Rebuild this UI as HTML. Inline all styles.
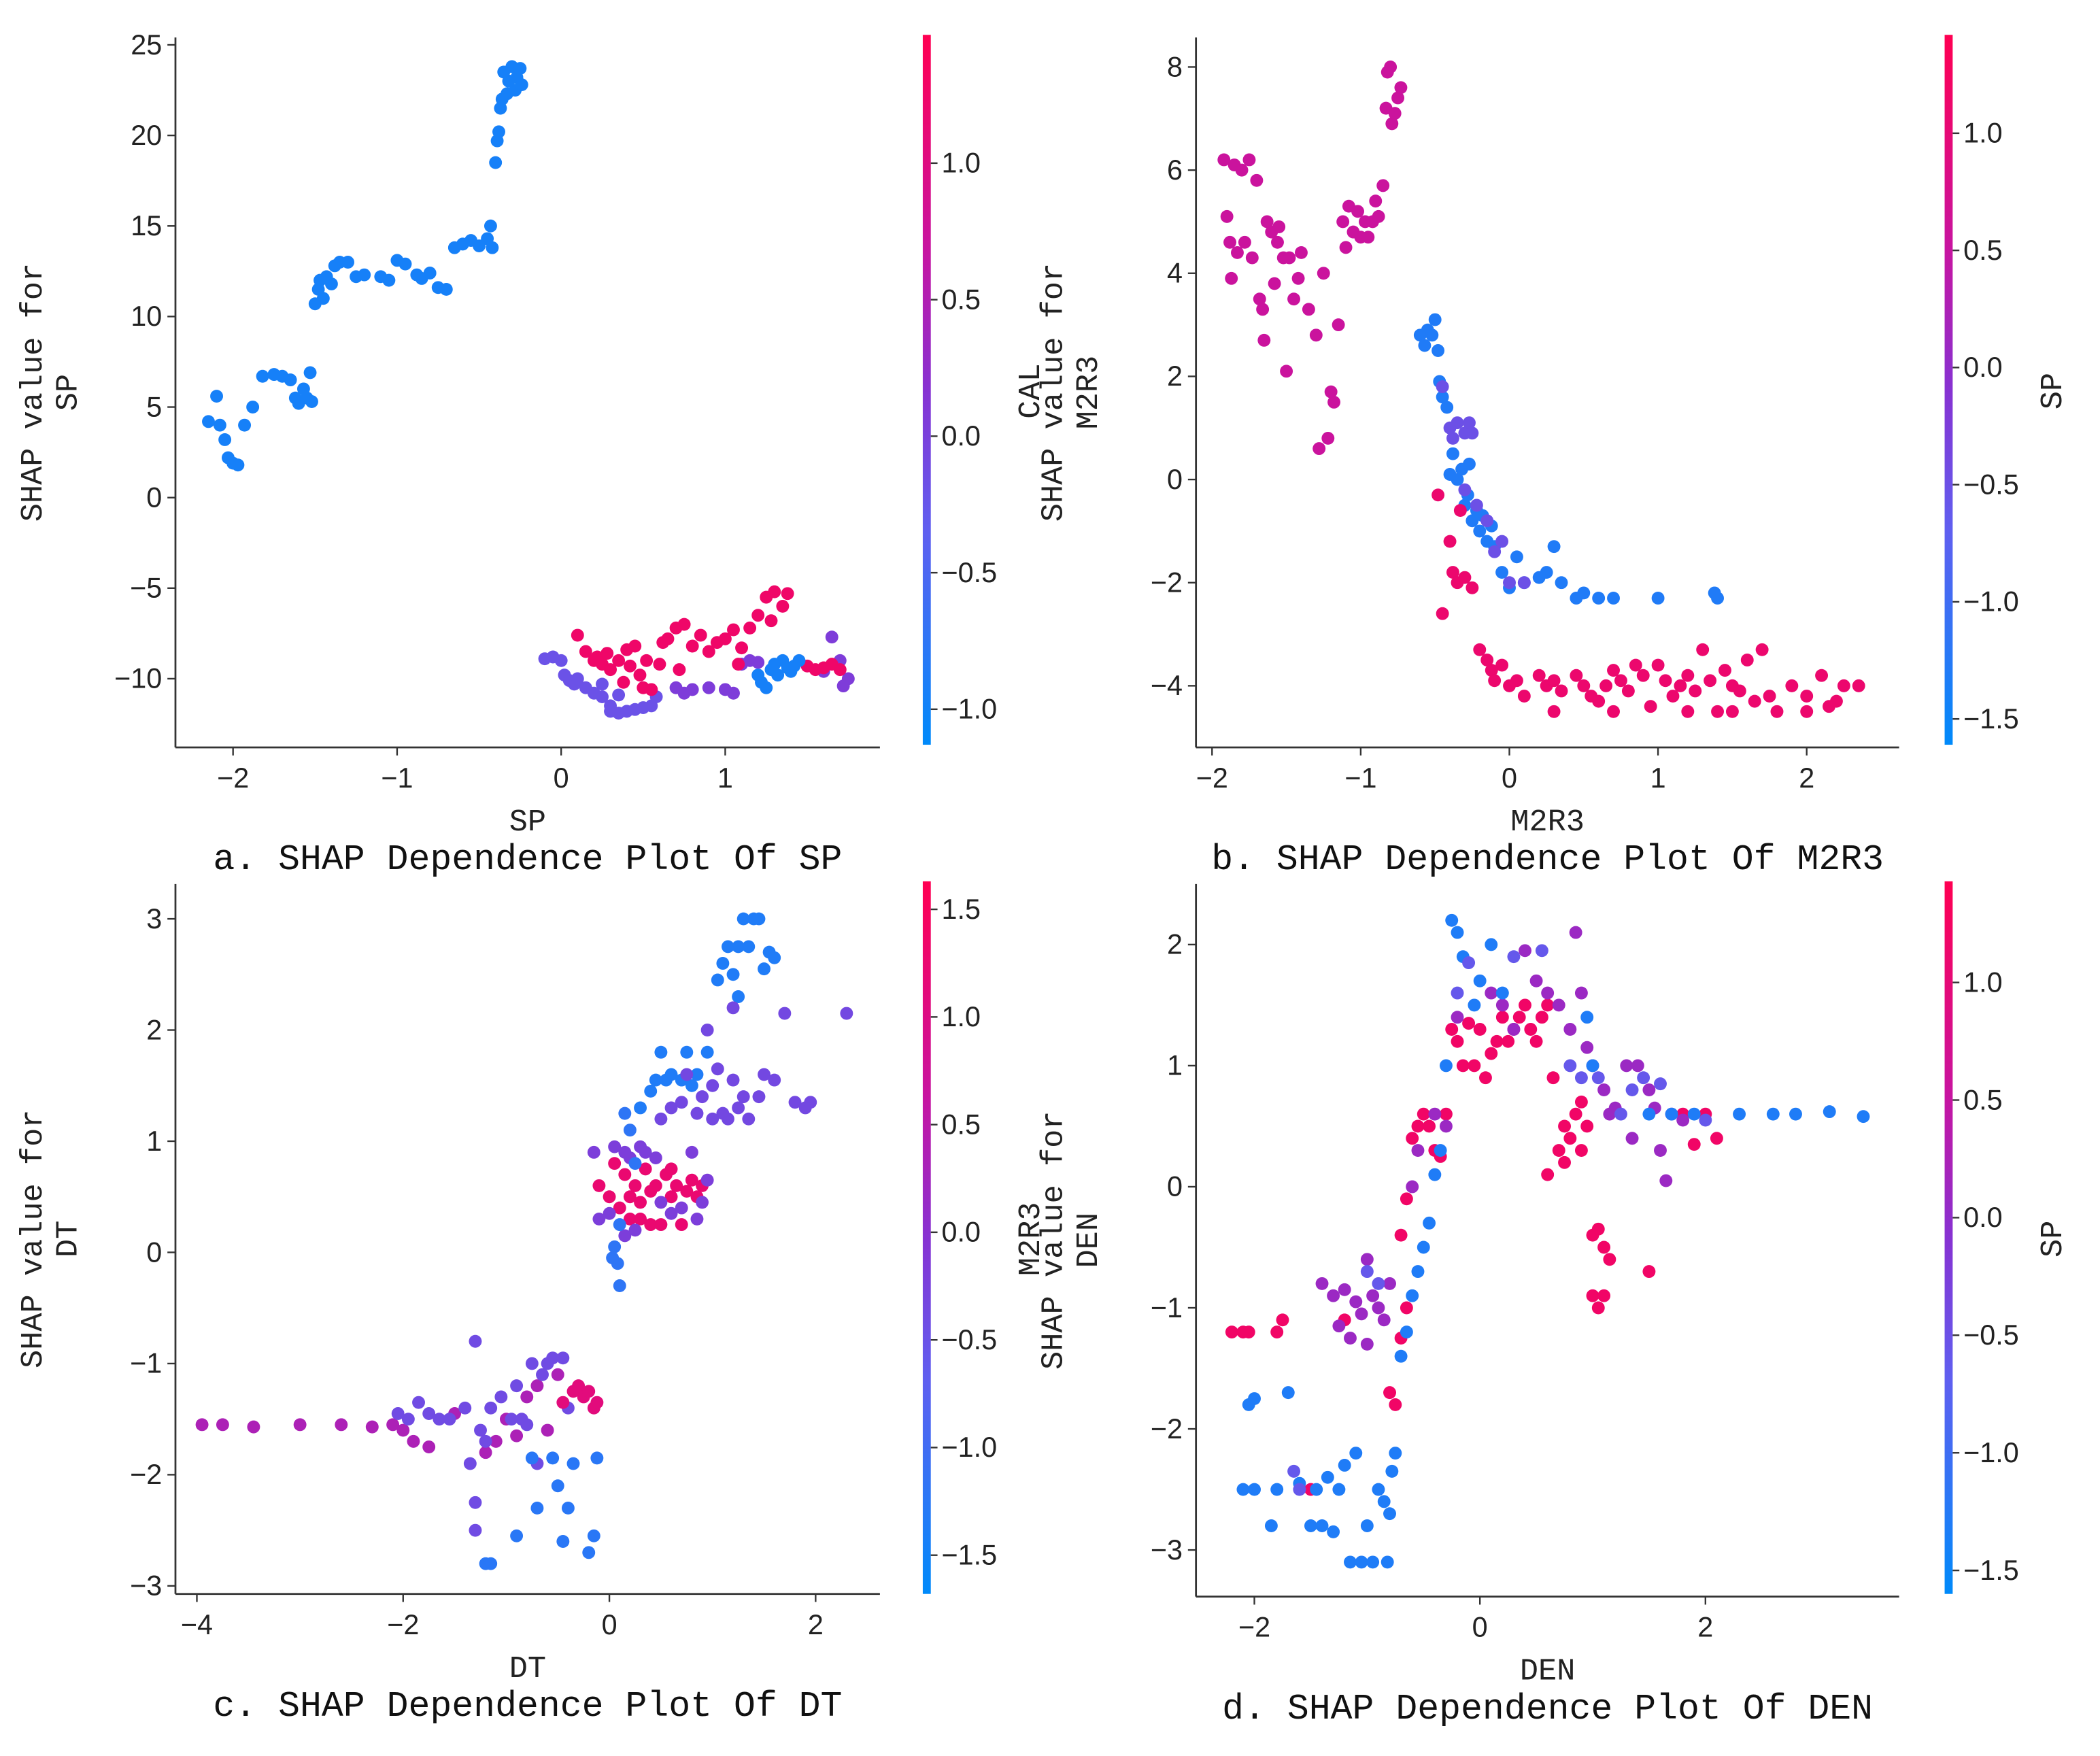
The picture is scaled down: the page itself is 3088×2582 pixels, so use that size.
<!DOCTYPE html>
<html><head><meta charset="utf-8"><style>
html,body{margin:0;padding:0;background:#fff;}
svg{display:block;}
.tk{font-family:"Liberation Sans","DejaVu Sans",sans-serif;font-size:21px;fill:#222;}
.lb{font-family:"Liberation Mono","DejaVu Sans Mono",monospace;font-size:23px;fill:#222;}
.tt{font-family:"Liberation Mono","DejaVu Sans Mono",monospace;font-size:27px;fill:#111;}
</style></head><body>
<svg id="fig" width="3088" height="2582" viewBox="0 0 1568 1311" preserveAspectRatio="none" xmlns="http://www.w3.org/2000/svg">
<defs id="defs"></defs>
</svg>
<script>
// ---------- Panel a data (x: SP, y: SHAP, color: CAL) ----------
const aGroupColors = [-0.95, -0.2, 0.05, 1.25, -0.95];
const aGroupPoints = [
 [[-2.15,4.2],[-2.1,5.6],[-2.08,4.0],[-2.05,3.2],[-2.03,2.2],[-2.0,1.9],[-1.97,1.8],[-1.93,4.0],[-1.88,5.0],[-1.82,6.7],[-1.75,6.8],[-1.7,6.7],[-1.65,6.5],[-1.62,5.5],[-1.6,5.2],[-1.57,6.0],[-1.55,5.5],[-1.53,6.9],[-1.52,5.3],[-1.5,10.7],[-1.48,11.5],[-1.47,12.0],[-1.45,11.0],[-1.43,12.2],[-1.4,11.8],[-1.38,12.8],[-1.35,13.0],[-1.3,13.0],[-1.25,12.2],[-1.2,12.3],[-1.1,12.2],[-1.05,12.0],[-1.0,13.1],[-0.95,12.9],[-0.88,12.3],[-0.85,12.1],[-0.8,12.4],[-0.75,11.6],[-0.7,11.5],[-0.65,13.8],[-0.6,14.0],[-0.55,14.2],[-0.5,13.9],[-0.45,14.3],[-0.43,15.0],[-0.42,13.8],[-0.4,18.5],[-0.39,19.7],[-0.38,20.2],[-0.37,21.5],[-0.36,22.0],[-0.35,23.5],[-0.33,22.3],[-0.32,23.0],[-0.3,23.8],[-0.28,22.5],[-0.27,23.2],[-0.25,23.7],[-0.24,22.8]],
 [[-0.1,-8.9],[-0.05,-8.8],[0.0,-9.0],[0.02,-9.8],[0.05,-10.1],[0.08,-10.3],[0.1,-10.0],[0.15,-10.5],[0.2,-10.8],[0.25,-11.0],[0.3,-11.5],[0.3,-11.8],[0.35,-11.9],[0.4,-11.8],[0.45,-11.7],[0.5,-11.6],[0.55,-11.5],[0.58,-11.0],[0.25,-10.3],[0.35,-10.9]],
 [[0.7,-10.5],[0.75,-10.8],[0.8,-10.6],[0.9,-10.5],[1.0,-10.6],[1.05,-10.8],[1.1,-9.2],[1.15,-9.0],[1.2,-9.1],[1.65,-7.7],[1.7,-9.0],[1.72,-10.4],[1.75,-10.0],[1.6,-9.6]],
 [[0.1,-7.6],[0.15,-8.5],[0.2,-9.0],[0.22,-8.8],[0.25,-9.2],[0.28,-8.6],[0.3,-9.5],[0.35,-9.0],[0.38,-10.2],[0.4,-8.4],[0.42,-9.3],[0.45,-8.2],[0.48,-9.8],[0.5,-10.5],[0.52,-9.0],[0.55,-10.6],[0.6,-9.2],[0.62,-8.0],[0.65,-7.8],[0.7,-7.2],[0.72,-9.5],[0.75,-7.0],[0.8,-8.2],[0.85,-7.6],[0.9,-8.5],[0.95,-8.0],[1.0,-7.8],[1.05,-7.3],[1.08,-9.2],[1.1,-8.3],[1.15,-7.2],[1.2,-6.5],[1.25,-5.5],[1.28,-6.8],[1.3,-5.2],[1.35,-6.0],[1.38,-5.3],[1.5,-9.3],[1.55,-9.5],[1.6,-9.4],[1.65,-9.2],[1.7,-9.5]],
 [[1.2,-9.8],[1.22,-10.2],[1.25,-10.5],[1.28,-9.5],[1.3,-9.2],[1.32,-9.8],[1.35,-9.0],[1.38,-9.4],[1.4,-9.6],[1.42,-9.3],[1.45,-9.0]]
];
const aXTicks = [-2,-1,0,1];
const aYTicks = [-10,-5,0,5,10,15,20,25];
const aCTicks = [-1.0,-0.5,0.0,0.5,1.0];

// ---------- Panel b data (x: M2R3, color: SP) ----------
const bGroupColors = [0.55, -1.3, -0.5, 1.1];
const bGroupPoints = [
 [[-1.92,6.2],[-1.9,5.1],[-1.88,4.6],[-1.87,3.9],[-1.85,6.1],[-1.83,4.4],[-1.8,6.0],[-1.78,4.6],[-1.75,6.2],[-1.73,4.3],[-1.7,5.8],[-1.68,3.5],[-1.66,3.3],[-1.65,2.7],[-1.63,5.0],[-1.6,4.8],[-1.58,3.8],[-1.56,4.6],[-1.55,4.9],[-1.52,4.3],[-1.5,2.1],[-1.48,4.3],[-1.45,3.5],[-1.42,3.9],[-1.4,4.4],[-1.35,3.3],[-1.3,2.8],[-1.28,0.6],[-1.25,4.0],[-1.22,0.8],[-1.2,1.7],[-1.18,1.5],[-1.15,3.0],[-1.12,5.0],[-1.1,4.5],[-1.08,5.3],[-1.05,4.8],[-1.02,5.2],[-1.0,4.7],[-0.97,5.0],[-0.95,4.7],[-0.92,5.0],[-0.9,5.4],[-0.88,5.1],[-0.85,5.7],[-0.83,7.2],[-0.82,7.9],[-0.8,8.0],[-0.79,6.9],[-0.77,7.1],[-0.75,7.4],[-0.73,7.6]],
 [[-0.6,2.8],[-0.57,2.6],[-0.55,2.9],[-0.52,2.8],[-0.5,3.1],[-0.48,2.5],[-0.47,1.9],[-0.45,1.6],[-0.42,1.4],[-0.38,0.5],[-0.35,0.0],[-0.32,0.2],[-0.3,-0.5],[-0.28,-0.3],[-0.25,-0.8],[-0.22,-0.6],[-0.2,-1.0],[-0.18,-0.7],[-0.15,-1.2],[-0.12,-0.9],[-0.1,-1.3],[-0.05,-1.8],[0.0,-2.1],[0.05,-1.5],[0.1,-2.0],[0.2,-1.9],[0.25,-1.8],[0.3,-1.3],[0.35,-2.0],[0.45,-2.3],[0.5,-2.2],[0.6,-2.3],[0.7,-2.3],[1.0,-2.3],[1.38,-2.2],[1.4,-2.3],[-0.4,0.1],[-0.27,0.3]],
 [[-0.4,1.0],[-0.38,0.8],[-0.35,1.1],[-0.3,0.9],[-0.27,1.1],[-0.25,0.9],[-0.3,-0.2],[-0.22,-0.5],[-0.15,-0.8],[-0.1,-1.4],[-0.05,-1.2],[0.0,-2.0],[0.1,-2.0],[-0.45,1.8]],
 [[-0.48,-0.3],[-0.45,-2.6],[-0.4,-1.2],[-0.38,-1.8],[-0.35,-2.0],[-0.33,-0.6],[-0.3,-1.9],[-0.25,-2.1],[-0.2,-3.3],[-0.15,-3.5],[-0.12,-3.7],[-0.1,-3.9],[-0.05,-3.6],[0.0,-4.0],[0.05,-3.9],[0.1,-4.2],[0.2,-3.8],[0.25,-4.0],[0.3,-3.9],[0.35,-4.1],[0.45,-3.8],[0.5,-4.0],[0.55,-4.2],[0.6,-4.3],[0.65,-4.0],[0.7,-3.7],[0.75,-3.9],[0.8,-4.1],[0.85,-3.6],[0.9,-3.8],[0.95,-4.4],[1.0,-3.6],[1.05,-3.9],[1.1,-4.2],[1.15,-4.0],[1.2,-3.8],[1.25,-4.1],[1.3,-3.3],[1.35,-3.9],[1.4,-4.5],[1.45,-3.7],[1.5,-4.0],[1.55,-4.1],[1.6,-3.5],[1.65,-4.3],[1.7,-3.3],[1.75,-4.2],[1.8,-4.5],[1.9,-4.0],[2.0,-4.2],[2.1,-3.8],[2.15,-4.4],[2.2,-4.3],[2.25,-4.0],[2.35,-4.0],[0.3,-4.5],[0.7,-4.5],[1.2,-4.5],[1.5,-4.5],[2.0,-4.5]]
];
const bXTicks = [-2,-1,0,1,2];
const bYTicks = [-4,-2,0,2,4,6,8];
const bCTicks = [-1.5,-1.0,-0.5,0.0,0.5,1.0];

// ---------- Panel c data (x: DT, color: M2R3) ----------
const cGroupColors = [0.35, -0.4, -1.25, 1.1, 1.25, -0.2, -1.2, -1.35, -0.35];
const cGroupPoints = [
 [[-3.95,-1.55],[-3.75,-1.55],[-3.45,-1.57],[-3.0,-1.55],[-2.6,-1.55],[-2.3,-1.57],[-2.1,-1.55],[-2.0,-1.6],[-1.9,-1.7],[-1.75,-1.75],[-1.5,-1.45],[-1.2,-1.8],[-1.1,-1.7],[-1.0,-1.5],[-0.9,-1.65],[-0.8,-1.3],[-0.7,-1.2],[-0.6,-1.6],[-0.5,-1.1]],
 [[-2.05,-1.45],[-1.95,-1.5],[-1.85,-1.35],[-1.75,-1.45],[-1.65,-1.5],[-1.55,-1.5],[-1.4,-1.4],[-1.3,-0.8],[-1.25,-1.6],[-1.2,-1.7],[-1.15,-1.4],[-1.05,-1.3],[-0.95,-1.5],[-0.9,-1.2],[-0.85,-1.5],[-0.8,-1.55],[-0.75,-1.0],[-0.65,-1.1],[-0.6,-1.0],[-0.55,-0.95],[-0.45,-0.95],[-0.4,-1.4],[-1.35,-1.9],[-1.3,-2.25],[-1.3,-2.5],[-0.7,-1.9]],
 [[-1.2,-2.8],[-1.15,-2.8],[-0.9,-2.55],[-0.75,-1.85],[-0.7,-2.3],[-0.55,-1.85],[-0.5,-2.1],[-0.45,-2.6],[-0.4,-2.3],[-0.35,-1.9],[-0.2,-2.7],[-0.15,-2.55],[-0.12,-1.85]],
 [[-0.45,-1.35],[-0.35,-1.25],[-0.3,-1.2],[-0.25,-1.3],[-0.2,-1.25],[-0.15,-1.4],[-0.12,-1.35]],
 [[-0.1,0.6],[0.0,0.5],[0.05,0.8],[0.1,0.4],[0.15,0.7],[0.2,0.5],[0.25,0.6],[0.3,0.3],[0.35,0.75],[0.4,0.55],[0.45,0.6],[0.5,0.25],[0.55,0.7],[0.6,0.5],[0.65,0.6],[0.7,0.25],[0.75,0.55],[0.8,0.65],[0.85,0.5],[0.9,0.6],[0.2,0.3],[0.4,0.25],[0.6,0.75],[0.3,0.45]],
 [[-0.15,0.9],[-0.1,0.3],[0,0.35],[0.05,0.95],[0.15,0.9],[0.2,0.85],[0.3,0.95],[0.35,0.9],[0.45,0.85],[0.5,0.45],[0.6,0.35],[0.7,0.4],[0.8,0.9],[0.9,0.45],[0.95,0.65],[0.85,0.3],[0.25,0.2],[0.15,0.15]],
 [[0.05,0.05],[0.08,-0.1],[0.1,-0.3],[0.03,-0.05],[0.1,0.25],[0.15,1.25],[0.2,1.1],[0.25,0.8]],
 [[0.3,1.3],[0.4,1.45],[0.45,1.55],[0.5,1.8],[0.55,1.55],[0.6,1.6],[0.7,1.55],[0.75,1.8],[0.8,1.5],[0.85,1.6],[0.95,1.8],[1.05,2.45],[1.1,2.6],[1.15,2.75],[1.2,2.5],[1.25,2.75],[1.3,3.0],[1.35,2.75],[1.4,3.0],[1.45,3.0],[1.5,2.55],[1.55,2.7],[1.6,2.65],[1.25,2.3]],
 [[0.5,1.2],[0.6,1.3],[0.7,1.35],[0.75,1.6],[0.85,1.25],[0.9,1.4],[1.0,1.5],[1.05,1.65],[1.1,1.25],[1.15,1.2],[1.2,1.55],[1.25,1.3],[1.3,1.4],[1.35,1.2],[1.45,1.4],[1.5,1.6],[1.6,1.55],[1.7,2.15],[1.8,1.35],[1.9,1.3],[1.95,1.35],[2.3,2.15],[0.95,2.0],[1.0,1.2],[1.2,2.2]]
];
const cXTicks = [-4,-2,0,2];
const cYTicks = [-3,-2,-1,0,1,2,3];
const cCTicks = [-1.5,-1.0,-0.5,0.0,0.5,1.0,1.5];

// ---------- Panel d data (x: DEN, color: SP) ----------
const dGroupColors = [1.2, 0.1, -1.3, -0.6];
const dGroupPoints = [
 [[-2.2,-1.2],[-2.1,-1.2],[-2.05,-1.2],[-1.8,-1.2],[-1.75,-1.1],[-1.5,-2.5],[-1.2,-1.1],[-0.8,-1.7],[-0.75,-1.8],[-0.7,-1.25],[-0.65,-1.0],[-0.7,-0.4],[-0.65,-0.1],[-0.6,0.4],[-0.55,0.5],[-0.5,0.6],[-0.45,0.5],[-0.4,0.3],[-0.35,0.25],[-0.3,0.6],[-0.25,1.3],[-0.2,1.2],[-0.15,1.0],[-0.1,1.35],[-0.05,1.0],[0.0,1.3],[0.05,0.9],[0.1,1.1],[0.15,1.2],[0.2,1.4],[0.25,1.2],[0.3,1.3],[0.35,1.4],[0.4,1.5],[0.45,1.3],[0.5,1.2],[0.55,1.4],[0.6,1.5],[0.65,0.9],[0.7,0.3],[0.75,0.2],[0.8,0.4],[0.85,0.6],[0.9,0.7],[0.95,0.5],[1.0,-0.4],[1.05,-0.35],[1.1,-0.5],[1.15,-0.6],[1.0,-0.9],[1.05,-1.0],[1.1,-0.9],[1.5,-0.7],[1.8,0.6],[1.9,0.35],[2.0,0.6],[2.1,0.4],[0.6,0.1],[0.75,0.5],[0.9,0.3]],
 [[-1.4,-0.8],[-1.3,-0.9],[-1.2,-0.85],[-1.1,-0.95],[-1.05,-1.05],[-1.0,-0.6],[-0.95,-0.9],[-0.9,-1.0],[-0.85,-1.1],[-1.0,-1.3],[-0.8,-0.8],[-0.6,0.0],[-0.55,0.3],[-0.4,0.6],[-0.3,0.5],[-0.2,1.4],[0.1,1.6],[0.2,1.5],[0.3,1.3],[0.4,1.95],[0.5,1.7],[0.6,1.6],[0.7,1.5],[0.8,1.3],[0.85,2.1],[0.9,1.6],[0.95,1.15],[1.0,1.0],[1.1,0.8],[1.15,0.6],[1.2,0.65],[1.3,1.0],[1.35,0.4],[1.4,1.0],[1.5,0.8],[1.55,0.65],[1.6,0.3],[1.65,0.05],[1.7,0.6],[1.8,0.55],[-1.25,-1.15],[-1.15,-1.25]],
 [[-2.1,-2.5],[-2.05,-1.8],[-2.0,-2.5],[-2.0,-1.75],[-1.85,-2.8],[-1.8,-2.5],[-1.7,-1.7],[-1.6,-2.45],[-1.5,-2.8],[-1.45,-2.5],[-1.4,-2.8],[-1.35,-2.4],[-1.3,-2.85],[-1.25,-2.5],[-1.2,-2.3],[-1.15,-3.1],[-1.1,-2.2],[-1.05,-3.1],[-1.0,-2.8],[-0.95,-3.1],[-0.9,-2.5],[-0.85,-2.6],[-0.82,-3.1],[-0.8,-2.7],[-0.78,-2.35],[-0.75,-2.2],[-0.7,-1.4],[-0.65,-1.2],[-0.6,-0.9],[-0.55,-0.7],[-0.5,-0.5],[-0.45,-0.3],[-0.4,0.1],[-0.35,0.3],[-0.3,1.0],[-0.25,2.2],[-0.2,2.1],[-0.15,1.9],[-0.05,1.5],[0.0,1.7],[0.1,2.0],[0.2,1.6],[1.5,0.6],[1.7,0.6],[1.9,0.6],[2.3,0.6],[2.6,0.6],[2.8,0.6],[3.1,0.62],[3.4,0.58],[0.95,1.4],[1.0,1.0]],
 [[-1.6,-2.5],[-1.65,-2.35],[-1.0,-0.7],[-0.9,-0.8],[0.3,1.9],[0.55,1.95],[0.8,1.0],[0.9,0.9],[1.05,0.9],[1.25,0.6],[1.35,0.8],[1.45,0.9],[1.6,0.85],[2.0,0.55],[-0.2,1.6],[-0.1,1.85]]
];
const dXTicks = [-2,0,2];
const dYTicks = [-3,-2,-1,0,1,2];
const dCTicks = [-1.5,-1.0,-0.5,0.0,0.5,1.0];

// ---------- rendering ----------
const NS = 'http://www.w3.org/2000/svg';
const svg = document.getElementById('fig');
const defs = document.getElementById('defs');
const cmapStops = [[0,[0,138,250]],[0.3,[95,95,240]],[0.5,[135,50,210]],[0.7,[200,20,160]],[1,[255,0,82]]];
function cmap(t){
  t=Math.max(0,Math.min(1,t));
  for(let i=1;i<cmapStops.length;i++){
    if(t<=cmapStops[i][0]){
      const a=cmapStops[i-1],b=cmapStops[i];const f=(t-a[0])/(b[0]-a[0]);
      return 'rgb('+[0,1,2].map(k=>Math.round(a[1][k]+(b[1][k]-a[1][k])*f)).join(',')+')';
    }
  }
  return 'rgb(255,0,82)';
}
function mk(tag,attrs,parent){const e=document.createElementNS(NS,tag);for(const k in attrs)e.setAttribute(k,attrs[k]);(parent||svg).appendChild(e);return e;}
function fmt(v,dec){let s=v.toFixed(dec);return s.replace('-','\u2212');}

function panel(cfg){
  const g=mk('g',{});
  
  
  const sx=v=>cfg.x0px+(v-cfg.x0v)*cfg.xs;
  const sy=v=>cfg.y0px-(v-cfg.y0v)*cfg.ys;
  const cv=v=>(v-cfg.cmin)/(cfg.cmax-cfg.cmin);
  const ax=mk('line',{x1:cfg.L,y1:cfg.B,x2:cfg.R,y2:cfg.B,stroke:'#333','stroke-width':1.4},g);
  
  
  const ay=mk('line',{x1:cfg.L,y1:cfg.T,x2:cfg.L,y2:cfg.B,stroke:'#333','stroke-width':1.4},g);
  
  
  cfg.xt.forEach(v=>{
    const x=sx(v);
    mk('line',{x1:x,y1:cfg.B,x2:x,y2:cfg.B+6,stroke:'#333','stroke-width':1.2},g);
    const t=mk('text',{x:x,y:cfg.B+30,'text-anchor':'middle',class:'tk'},g);t.textContent=fmt(v,0);
    
    
  });
  cfg.yt.forEach(v=>{
    const y=sy(v);
    mk('line',{x1:cfg.L-6,y1:y,x2:cfg.L,y2:y,stroke:'#333','stroke-width':1.2},g);
    const t=mk('text',{x:cfg.L-10,y:y+7,'text-anchor':'end',class:'tk'},g);t.textContent=fmt(v,0);
    
    
  });
  cfg.groups.forEach((pts,gi)=>{
    const col=cmap(cv(cfg.gcols[gi]));
    pts.forEach(p=>{
      const c=mk('circle',{cx:sx(p[0]),cy:sy(p[1]),r:4.8,fill:col},g);
      
      
    });
  });
  const gid='grad-'+cfg.id;
  const lg=mk('linearGradient',{id:gid,x1:0,y1:1,x2:0,y2:0},defs);
  for(let i=0;i<=20;i++){mk('stop',{offset:i/20,'stop-color':cmap(i/20)},lg);}
  const cb=mk('rect',{x:cfg.cbx,y:cfg.T-2,width:6,height:cfg.cbB-cfg.T+2,fill:'url(#'+gid+')'},g);
  
  
  const cy=v=>cfg.cbB-(v-cfg.cmin)/(cfg.cmax-cfg.cmin)*(cfg.cbB-cfg.T+2);
  cfg.ct.forEach(v=>{
    const y=cy(v);
    mk('line',{x1:cfg.cbx+6,y1:y,x2:cfg.cbx+11,y2:y,stroke:'#333','stroke-width':1.2},g);
    const t=mk('text',{x:cfg.cbx+14,y:y+7,class:'tk'},g);t.textContent=fmt(v,1);
    
    
  });
  const cl=mk('text',{x:0,y:0,class:'lb','text-anchor':'middle',transform:'translate('+(cfg.cbx+87)+','+((cfg.T+cfg.cbB)/2)+') rotate(-90)'},g);
  cl.textContent=cfg.clab;
  
  
  const yc=(cfg.T+cfg.B)/2;
  const yl=mk('text',{x:0,y:0,class:'lb','text-anchor':'middle',transform:'translate('+(cfg.L-100)+','+yc+') rotate(-90)'},g);
  yl.textContent='SHAP value for';
  
  
  const yl2=mk('text',{x:0,y:0,class:'lb','text-anchor':'middle',transform:'translate('+(cfg.L-74)+','+yc+') rotate(-90)'},g);
  yl2.textContent=cfg.xlab;
  
  
  const xl=mk('text',{x:(cfg.L+cfg.R)/2,y:cfg.B+62,class:'lb','text-anchor':'middle'},g);
  xl.textContent=cfg.xlab;
  
  
  const tt=mk('text',{x:(cfg.L+cfg.R)/2,y:cfg.B+91,class:'tt','text-anchor':'middle'},g);
  tt.textContent=cfg.title;
  
  
}

panel({id:'a',L:131,R:657,T:28,B:558,x0v:0,x0px:419,xs:122.5,y0v:0,y0px:371.5,ys:13.52,
  xt:aXTicks,yt:aYTicks,ct:aCTicks,cmin:-1.13,cmax:1.47,cbx:689,cbB:556,clab:'CAL',xlab:'SP',
  title:'a. SHAP Dependence Plot Of SP',groups:aGroupPoints,gcols:aGroupColors});
panel({id:'b',L:893,R:1418,T:28,B:558,x0v:0,x0px:1127,xs:111,y0v:0,y0px:358,ys:38.5,
  xt:bXTicks,yt:bYTicks,ct:bCTicks,cmin:-1.61,cmax:1.42,cbx:1452,cbB:556,clab:'SP',xlab:'M2R3',
  title:'b. SHAP Dependence Plot Of M2R3',groups:bGroupPoints,gcols:bGroupColors});
panel({id:'c',L:131,R:657,T:660,B:1190,x0v:0,x0px:455,xs:77,y0v:0,y0px:935,ys:83,
  xt:cXTicks,yt:cYTicks,ct:cCTicks,cmin:-1.68,cmax:1.63,cbx:689,cbB:1190,clab:'M2R3',xlab:'DT',
  title:'c. SHAP Dependence Plot Of DT',groups:cGroupPoints,gcols:cGroupColors});
panel({id:'d',L:893,R:1418,T:660,B:1192,x0v:0,x0px:1105,xs:84.2,y0v:0,y0px:886,ys:90.4,
  xt:dXTicks,yt:dYTicks,ct:dCTicks,cmin:-1.6,cmax:1.43,cbx:1452,cbB:1190,clab:'SP',xlab:'DEN',
  title:'d. SHAP Dependence Plot Of DEN',groups:dGroupPoints,gcols:dGroupColors});
</script>
</body></html>
